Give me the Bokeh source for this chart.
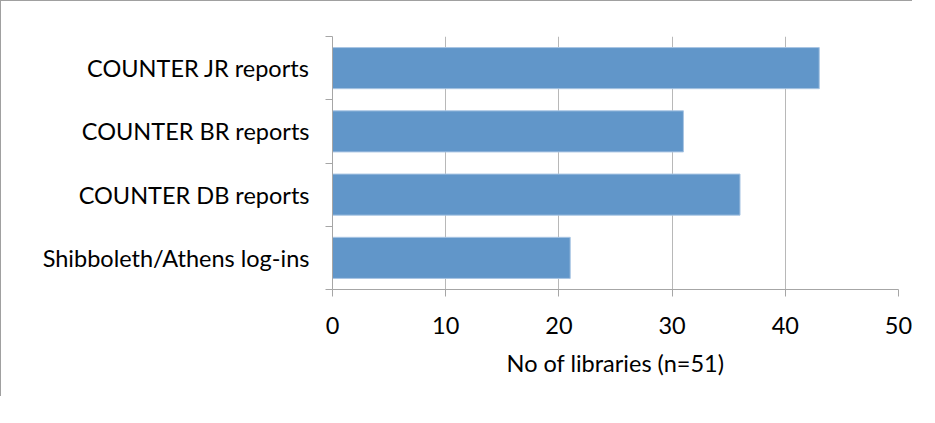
from bokeh.embed import file_html
from bokeh.models import FixedTicker, Range1d
from bokeh.plotting import figure
from bokeh.resources import INLINE

categories = ['COUNTER JR reports', 'COUNTER BR reports',
              'COUNTER DB reports', 'Shibboleth/Athens log-ins']
counts = [43, 31, 36, 21]
x_ticks = [0, 10, 20, 30, 40, 50]
x_title = 'No of libraries (n=51)'

FONT = 'Lato'
SIZE = '23.5px'
n = len(categories)
# first category sits at the top, like Excel's bar charts
ypos = [n - i - 0.5 for i in range(n)]

p = figure(width=912, height=396, output_backend="svg", toolbar_location=None,
           x_range=Range1d(0, 50), y_range=Range1d(0, n),
           min_border_left=331, min_border_right=15,
           min_border_top=35, min_border_bottom=108)
p.styles = {'border-top': '1px solid #a0a0a0', 'border-left': '1px solid #a0a0a0'}
p.outline_line_color = None
p.background_fill_color = 'white'

p.hbar(y=ypos, right=counts, left=0, height=0.65,
       fill_color='#6196c9', line_color='#a9c5e3', line_width=1)

p.ygrid.grid_line_color = None
p.xgrid.grid_line_color = '#b8b8b8'
p.xgrid.ticker = FixedTicker(ticks=x_ticks)

p.xaxis.ticker = FixedTicker(ticks=x_ticks)
p.xaxis.axis_label = x_title
p.xaxis.axis_line_color = '#a6a6a6'
p.xaxis.major_tick_line_color = '#a6a6a6'
p.xaxis.major_tick_out = 7
p.xaxis.major_tick_in = 0
p.xaxis.minor_tick_line_color = None
p.xaxis.major_label_standoff = 20
p.xaxis.axis_label_standoff = 12
p.xaxis.major_label_text_font = FONT
p.xaxis.major_label_text_font_size = SIZE
p.xaxis.major_label_text_color = 'black'
p.xaxis.axis_label_text_font = FONT
p.xaxis.axis_label_text_font_size = SIZE
p.xaxis.axis_label_text_font_style = 'normal'
p.xaxis.axis_label_text_color = 'black'

p.yaxis.ticker = FixedTicker(ticks=ypos, minor_ticks=list(range(n + 1)))
p.yaxis.major_label_overrides = {y: c for y, c in zip(ypos, categories)}
p.yaxis.axis_line_color = '#a6a6a6'
p.yaxis.major_tick_line_color = None
p.yaxis.major_tick_out = 0
p.yaxis.major_tick_in = 0
p.yaxis.minor_tick_line_color = '#a6a6a6'
p.yaxis.minor_tick_out = 7
p.yaxis.minor_tick_in = 0
p.yaxis.major_label_standoff = 16
p.yaxis.major_label_text_font = FONT
p.yaxis.major_label_text_font_size = SIZE
p.yaxis.major_label_text_color = 'black'

open("out.html", "w").write(file_html(p, INLINE))
